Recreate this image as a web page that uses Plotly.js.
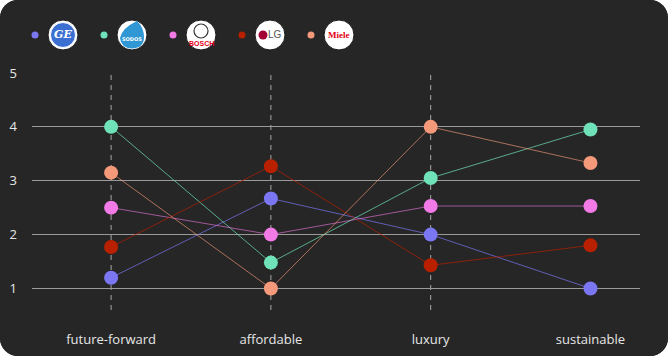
<!DOCTYPE html>
<html>
<head>
<meta charset="utf-8">
<script src="https://cdn.plot.ly/plotly-3.0.1.min.js"></script>
<style>
  html, body { margin: 0; padding: 0; background: #ffffff; }
  #wrap { width: 668px; height: 356px; border-radius: 18px; overflow: hidden; background: #262626; }
  #chart { width: 668px; height: 356px; }
</style>
</head>
<body>
<div id="wrap"><div id="chart"></div></div>
<script>
// ---- data ----
const categories = ["future-forward", "affordable", "luxury", "sustainable"];
const brands = ["GE", "Water", "BOSCH", "LG", "Miele"];
const geValues    = [1.2, 2.67, 2.0, 1.0];
const waterValues = [4.0, 1.48, 3.05, 3.95];
const boschValues = [2.5, 2.0, 2.53, 2.53];
const lgValues    = [1.77, 3.27, 1.43, 1.8];
const mieleValues = [3.15, 1.0, 4.0, 3.33];
const yTicks = [1, 2, 3, 4, 5];

// ---- styles ----
const seriesValues = [geValues, waterValues, boschValues, lgValues, mieleValues];
const markerColors = ["#7b76f2", "#6fe2b9", "#f27ae6", "#b82000", "#f4997a"];
const lineColors = ["rgba(123,118,242,0.7)", "rgba(111,226,185,0.7)", "rgba(242,122,230,0.6)", "rgba(184,32,0,0.7)", "rgba(244,153,122,0.65)"];

const W = 668, H = 356;
const M = {l: 32, r: 28, t: 73, b: 46};
const PW = W - M.l - M.r, PH = H - M.t - M.b;
const px = x => (x - M.l) / PW;
const py = y => (H - M.b - y) / PH;

const traces = seriesValues.map((vals, i) => ({
  type: "scatter",
  mode: "lines+markers",
  name: brands[i],
  x: categories,
  y: vals,
  line: {color: lineColors[i], width: 1},
  marker: {color: markerColors[i], size: 14},
  showlegend: false,
  hoverinfo: "x+y+name"
}));

const shapes = [];
const annotations = [];

// dashed category guides
categories.slice(0, 3).forEach((c, i) => {
  shapes.push({type: "line", xref: "x", yref: "paper", x0: i, x1: i, y0: 0, y1: 1,
    line: {color: "#a8a8a8", width: 1, dash: "5px,5px"}, layer: "below"});
});

function circ(cx, cy, r, fill, line) {
  shapes.push({type: "circle", xref: "paper", yref: "paper",
    x0: px(cx - r), x1: px(cx + r), y0: py(cy + r), y1: py(cy - r),
    fillcolor: fill, line: line || {width: 0}});
}
function label(cx, cy, text, font) {
  annotations.push({xref: "paper", yref: "paper", x: px(cx), y: py(cy), text: text,
    xanchor: "center", yanchor: "middle", showarrow: false, font: font});
}

// custom legend (dot + white logo badge)
const legendStart = 35, legendStep = 69, badgeOffset = 28, badgeR = 15, legendY = 35;
brands.forEach((b, i) => {
  const dx = legendStart + i * legendStep;
  circ(dx, legendY, 3.5, markerColors[i]);
  const cx = dx + badgeOffset;
  circ(cx, legendY, badgeR, "#ffffff", {color: "#1a1a1a", width: 1});
  if (b === "GE") {
    circ(cx, legendY, 12.5, "#3b6fd1", {color: "#ffffff", width: 1});
    label(cx, legendY, "<i><b>GE</b></i>", {family: "DejaVu Serif", size: 11, color: "#ffffff"});
  } else if (b === "Water") {
    const X = d => px(cx + d), Y = d => py(legendY + d);
    shapes.push({type: "path", xref: "paper", yref: "paper",
      path: `M ${X(5)} ${Y(-14)} Q ${X(-10)} ${Y(-7)} ${X(-12)} ${Y(3)} Q ${X(-11)} ${Y(13)} ${X(0)} ${Y(13.5)} Q ${X(12)} ${Y(13)} ${X(12)} ${Y(2)} Q ${X(12)} ${Y(-7)} ${X(5)} ${Y(-14)} Z`,
      fillcolor: "#2f97d3", line: {width: 0}});
    label(cx, legendY + 4, "<b>SODOS</b>", {family: "DejaVu Sans", size: 5, color: "#ffffff"});
  } else if (b === "BOSCH") {
    circ(cx, legendY - 4, 7, "rgba(0,0,0,0)", {color: "#333333", width: 1.2});
    label(cx, legendY + 8, "<b>BOSCH</b>", {family: "Liberation Sans Narrow, Liberation Sans", size: 7, color: "#e2001a"});
  } else if (b === "LG") {
    circ(cx - 7, legendY, 4.5, "#a50034");
    label(cx + 5, legendY, "LG", {family: "Liberation Sans", size: 10, color: "#555555"});
  } else if (b === "Miele") {
    label(cx, legendY, "<b>Miele</b>", {family: "Liberation Serif", size: 9, color: "#e3000f"});
  }
});

const layout = {
  width: W, height: H,
  margin: M,
  paper_bgcolor: "#262626",
  plot_bgcolor: "#262626",
  font: {family: "Open Sans, Noto Sans, sans-serif", color: "#e0e0e0", size: 13},
  showlegend: false,
  xaxis: {
    type: "category",
    categoryarray: categories,
    range: [-0.495, 3.31],
    showgrid: false, zeroline: false, showline: false,
    ticks: "", ticklabelstandoff: 20,
    tickfont: {size: 13, color: "#e6e6e6"},
    fixedrange: true
  },
  yaxis: {
    range: [0.6, 5.0],
    tickvals: yTicks,
    ticktext: yTicks.map(String),
    showgrid: true, gridcolor: "#9a9a9a", gridwidth: 1,
    zeroline: false, showline: false,
    ticks: "", ticklabelstandoff: 14,
    tickfont: {size: 13, color: "#e6e6e6"},
    fixedrange: true
  },
  shapes: shapes,
  annotations: annotations
};

Plotly.newPlot("chart", traces, layout, {displayModeBar: false, staticPlot: true});
</script>
</body>
</html>
